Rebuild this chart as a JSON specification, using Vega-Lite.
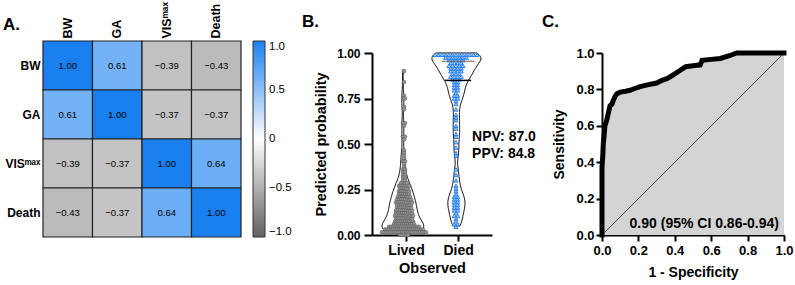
{
"$schema": "https://vega.github.io/schema/vega-lite/v6.json",
"autosize": {"type": "none"},
"padding": {"left": 43, "top": 41, "right": 752, "bottom": 244},
"config": {
  "font": "Liberation Sans",
  "view": {"stroke": null},
  "axis": {"grid": false, "domainColor": "black", "domainWidth": 2, "tickColor": "black", "tickWidth": 2, "tickSize": 6, "labelColor": "black", "labelFontWeight": "bold", "titleColor": "black", "titleFontWeight": "bold", "labelOverlap": false},
  "title": {"fontSize": 17, "fontWeight": "bold", "color": "black", "anchor": "start", "frame": "group"}
},
"spacing": 110,
"bounds": "flush",
"datasets": {
  "corr": [
    {"row": "BW", "col": "BW", "r": 1.0}, {"row": "BW", "col": "GA", "r": 0.61}, {"row": "BW", "col": "VISᵐᵃˣ", "r": -0.39}, {"row": "BW", "col": "Death", "r": -0.43},
    {"row": "GA", "col": "BW", "r": 0.61}, {"row": "GA", "col": "GA", "r": 1.0}, {"row": "GA", "col": "VISᵐᵃˣ", "r": -0.37}, {"row": "GA", "col": "Death", "r": -0.37},
    {"row": "VISᵐᵃˣ", "col": "BW", "r": -0.39}, {"row": "VISᵐᵃˣ", "col": "GA", "r": -0.37}, {"row": "VISᵐᵃˣ", "col": "VISᵐᵃˣ", "r": 1.0}, {"row": "VISᵐᵃˣ", "col": "Death", "r": 0.64},
    {"row": "Death", "col": "BW", "r": -0.43}, {"row": "Death", "col": "GA", "r": -0.37}, {"row": "Death", "col": "VISᵐᵃˣ", "r": 0.64}, {"row": "Death", "col": "Death", "r": 1.0}
  ],
  "pred": [
    {"group":"Lived","prob":0.907},{"group":"Lived","prob":0.842},{"group":"Lived","prob":0.772},{"group":"Lived","prob":0.764},{"group":"Lived","prob":0.751},{"group":"Lived","prob":0.712},{"group":"Lived","prob":0.703},{"group":"Lived","prob":0.628},{"group":"Lived","prob":0.617},{"group":"Lived","prob":0.604},
    {"group":"Lived","prob":0.553},{"group":"Lived","prob":0.541},{"group":"Lived","prob":0.532},{"group":"Lived","prob":0.471},{"group":"Lived","prob":0.452},{"group":"Lived","prob":0.443},{"group":"Lived","prob":0.431},{"group":"Lived","prob":0.418},{"group":"Lived","prob":0.405},{"group":"Lived","prob":0.392},
    {"group":"Lived","prob":0.384},{"group":"Lived","prob":0.371},{"group":"Lived","prob":0.366},{"group":"Lived","prob":0.352},{"group":"Lived","prob":0.347},{"group":"Lived","prob":0.338},{"group":"Lived","prob":0.331},{"group":"Lived","prob":0.322},{"group":"Lived","prob":0.318},{"group":"Lived","prob":0.309},
    {"group":"Lived","prob":0.302},{"group":"Lived","prob":0.297},{"group":"Lived","prob":0.291},{"group":"Lived","prob":0.288},{"group":"Lived","prob":0.283},{"group":"Lived","prob":0.279},{"group":"Lived","prob":0.274},{"group":"Lived","prob":0.271},{"group":"Lived","prob":0.266},{"group":"Lived","prob":0.262},
    {"group":"Lived","prob":0.258},{"group":"Lived","prob":0.254},{"group":"Lived","prob":0.251},{"group":"Lived","prob":0.247},{"group":"Lived","prob":0.243},{"group":"Lived","prob":0.239},{"group":"Lived","prob":0.236},{"group":"Lived","prob":0.231},{"group":"Lived","prob":0.228},{"group":"Lived","prob":0.224},
    {"group":"Lived","prob":0.221},{"group":"Lived","prob":0.217},{"group":"Lived","prob":0.214},{"group":"Lived","prob":0.211},{"group":"Lived","prob":0.208},{"group":"Lived","prob":0.205},{"group":"Lived","prob":0.202},{"group":"Lived","prob":0.198},{"group":"Lived","prob":0.195},{"group":"Lived","prob":0.192},
    {"group":"Lived","prob":0.189},{"group":"Lived","prob":0.186},{"group":"Lived","prob":0.183},{"group":"Lived","prob":0.18},{"group":"Lived","prob":0.177},{"group":"Lived","prob":0.174},{"group":"Lived","prob":0.171},{"group":"Lived","prob":0.168},{"group":"Lived","prob":0.165},{"group":"Lived","prob":0.162},
    {"group":"Lived","prob":0.159},{"group":"Lived","prob":0.156},{"group":"Lived","prob":0.153},{"group":"Lived","prob":0.151},{"group":"Lived","prob":0.148},{"group":"Lived","prob":0.146},{"group":"Lived","prob":0.143},{"group":"Lived","prob":0.141},{"group":"Lived","prob":0.138},{"group":"Lived","prob":0.136},
    {"group":"Lived","prob":0.133},{"group":"Lived","prob":0.131},{"group":"Lived","prob":0.128},{"group":"Lived","prob":0.126},{"group":"Lived","prob":0.123},{"group":"Lived","prob":0.121},{"group":"Lived","prob":0.118},{"group":"Lived","prob":0.116},{"group":"Lived","prob":0.113},{"group":"Lived","prob":0.111},
    {"group":"Lived","prob":0.108},{"group":"Lived","prob":0.106},{"group":"Lived","prob":0.104},{"group":"Lived","prob":0.102},{"group":"Lived","prob":0.099},{"group":"Lived","prob":0.097},{"group":"Lived","prob":0.096},{"group":"Lived","prob":0.094},{"group":"Lived","prob":0.092},{"group":"Lived","prob":0.091},
    {"group":"Lived","prob":0.089},{"group":"Lived","prob":0.088},{"group":"Lived","prob":0.086},{"group":"Lived","prob":0.085},{"group":"Lived","prob":0.083},{"group":"Lived","prob":0.082},{"group":"Lived","prob":0.08},{"group":"Lived","prob":0.079},{"group":"Lived","prob":0.077},{"group":"Lived","prob":0.076},
    {"group":"Lived","prob":0.074},{"group":"Lived","prob":0.073},{"group":"Lived","prob":0.071},{"group":"Lived","prob":0.07},{"group":"Lived","prob":0.068},{"group":"Lived","prob":0.067},{"group":"Lived","prob":0.066},{"group":"Lived","prob":0.064},{"group":"Lived","prob":0.063},{"group":"Lived","prob":0.062},
    {"group":"Lived","prob":0.06},{"group":"Lived","prob":0.059},{"group":"Lived","prob":0.058},{"group":"Lived","prob":0.057},{"group":"Lived","prob":0.056},{"group":"Lived","prob":0.055},{"group":"Lived","prob":0.054},{"group":"Lived","prob":0.053},{"group":"Lived","prob":0.052},{"group":"Lived","prob":0.051},
    {"group":"Lived","prob":0.05},{"group":"Lived","prob":0.049},{"group":"Lived","prob":0.048},{"group":"Lived","prob":0.047},{"group":"Lived","prob":0.046},{"group":"Lived","prob":0.045},{"group":"Lived","prob":0.045},{"group":"Lived","prob":0.044},{"group":"Lived","prob":0.043},{"group":"Lived","prob":0.042},
    {"group":"Lived","prob":0.041},{"group":"Lived","prob":0.041},{"group":"Lived","prob":0.04},{"group":"Lived","prob":0.039},{"group":"Lived","prob":0.038},{"group":"Lived","prob":0.038},{"group":"Lived","prob":0.037},{"group":"Lived","prob":0.036},{"group":"Lived","prob":0.035},{"group":"Lived","prob":0.035},
    {"group":"Lived","prob":0.034},{"group":"Lived","prob":0.033},{"group":"Lived","prob":0.033},{"group":"Lived","prob":0.032},{"group":"Lived","prob":0.031},{"group":"Lived","prob":0.031},{"group":"Lived","prob":0.03},{"group":"Lived","prob":0.029},{"group":"Lived","prob":0.029},{"group":"Lived","prob":0.028},
    {"group":"Lived","prob":0.027},{"group":"Lived","prob":0.027},{"group":"Lived","prob":0.026},{"group":"Lived","prob":0.025},{"group":"Lived","prob":0.025},{"group":"Lived","prob":0.024},{"group":"Lived","prob":0.023},{"group":"Lived","prob":0.023},{"group":"Lived","prob":0.022},{"group":"Lived","prob":0.021},
    {"group":"Lived","prob":0.021},{"group":"Lived","prob":0.02},{"group":"Lived","prob":0.019},{"group":"Lived","prob":0.019},{"group":"Lived","prob":0.018},{"group":"Lived","prob":0.017},{"group":"Lived","prob":0.017},{"group":"Lived","prob":0.016},{"group":"Lived","prob":0.015},{"group":"Lived","prob":0.015},
    {"group":"Lived","prob":0.014},{"group":"Lived","prob":0.013},{"group":"Lived","prob":0.012},{"group":"Lived","prob":0.011},{"group":"Lived","prob":0.01},
    {"group":"Lived","prob":0.104},{"group":"Lived","prob":0.109},{"group":"Lived","prob":0.114},{"group":"Lived","prob":0.119},{"group":"Lived","prob":0.124},{"group":"Lived","prob":0.129},{"group":"Lived","prob":0.134},{"group":"Lived","prob":0.139},{"group":"Lived","prob":0.144},{"group":"Lived","prob":0.149},
    {"group":"Lived","prob":0.154},{"group":"Lived","prob":0.158},{"group":"Lived","prob":0.163},{"group":"Lived","prob":0.167},{"group":"Lived","prob":0.172},{"group":"Lived","prob":0.176},{"group":"Lived","prob":0.181},{"group":"Lived","prob":0.185},{"group":"Lived","prob":0.19},{"group":"Lived","prob":0.194},
    {"group":"Lived","prob":0.199},{"group":"Lived","prob":0.203},{"group":"Lived","prob":0.209},{"group":"Lived","prob":0.213},{"group":"Lived","prob":0.219},{"group":"Lived","prob":0.226},{"group":"Lived","prob":0.233},{"group":"Lived","prob":0.241},{"group":"Lived","prob":0.249},{"group":"Lived","prob":0.256},
    {"group":"Lived","prob":0.264},{"group":"Lived","prob":0.272},{"group":"Lived","prob":0.281},{"group":"Lived","prob":0.293},{"group":"Lived","prob":0.113},
    {"group":"Died","prob":1.0},{"group":"Died","prob":1.0},{"group":"Died","prob":0.999},{"group":"Died","prob":0.999},{"group":"Died","prob":0.998},{"group":"Died","prob":0.998},{"group":"Died","prob":0.997},{"group":"Died","prob":0.996},{"group":"Died","prob":0.995},{"group":"Died","prob":0.994},
    {"group":"Died","prob":0.993},{"group":"Died","prob":0.992},{"group":"Died","prob":0.99},{"group":"Died","prob":0.989},{"group":"Died","prob":0.987},{"group":"Died","prob":0.985},{"group":"Died","prob":0.983},{"group":"Died","prob":0.981},{"group":"Died","prob":0.979},{"group":"Died","prob":0.977},
    {"group":"Died","prob":0.974},{"group":"Died","prob":0.971},{"group":"Died","prob":0.968},{"group":"Died","prob":0.965},{"group":"Died","prob":0.962},{"group":"Died","prob":0.958},{"group":"Died","prob":0.955},{"group":"Died","prob":0.951},{"group":"Died","prob":0.948},{"group":"Died","prob":0.944},
    {"group":"Died","prob":0.941},{"group":"Died","prob":0.937},{"group":"Died","prob":0.934},{"group":"Died","prob":0.93},{"group":"Died","prob":0.927},{"group":"Died","prob":0.923},{"group":"Died","prob":0.92},{"group":"Died","prob":0.916},{"group":"Died","prob":0.912},{"group":"Died","prob":0.909},
    {"group":"Died","prob":0.905},{"group":"Died","prob":0.902},{"group":"Died","prob":0.898},{"group":"Died","prob":0.893},{"group":"Died","prob":0.889},{"group":"Died","prob":0.884},{"group":"Died","prob":0.879},{"group":"Died","prob":0.875},{"group":"Died","prob":0.87},{"group":"Died","prob":0.866},
    {"group":"Died","prob":0.861},{"group":"Died","prob":0.857},{"group":"Died","prob":0.853},{"group":"Died","prob":0.846},{"group":"Died","prob":0.838},{"group":"Died","prob":0.829},{"group":"Died","prob":0.82},{"group":"Died","prob":0.811},{"group":"Died","prob":0.803},{"group":"Died","prob":0.795},
    {"group":"Died","prob":0.787},{"group":"Died","prob":0.779},{"group":"Died","prob":0.771},{"group":"Died","prob":0.763},{"group":"Died","prob":0.752},{"group":"Died","prob":0.741},{"group":"Died","prob":0.73},{"group":"Died","prob":0.703},{"group":"Died","prob":0.672},{"group":"Died","prob":0.655},
    {"group":"Died","prob":0.631},{"group":"Died","prob":0.608},{"group":"Died","prob":0.587},{"group":"Died","prob":0.566},{"group":"Died","prob":0.545},{"group":"Died","prob":0.524},{"group":"Died","prob":0.487},{"group":"Died","prob":0.462},{"group":"Died","prob":0.438},{"group":"Died","prob":0.362},
    {"group":"Died","prob":0.331},{"group":"Died","prob":0.307},{"group":"Died","prob":0.284},{"group":"Died","prob":0.262},{"group":"Died","prob":0.246},{"group":"Died","prob":0.232},{"group":"Died","prob":0.221},{"group":"Died","prob":0.212},{"group":"Died","prob":0.204},{"group":"Died","prob":0.197},
    {"group":"Died","prob":0.19},{"group":"Died","prob":0.183},{"group":"Died","prob":0.176},{"group":"Died","prob":0.169},{"group":"Died","prob":0.161},{"group":"Died","prob":0.153},{"group":"Died","prob":0.146},{"group":"Died","prob":0.139},{"group":"Died","prob":0.128},{"group":"Died","prob":0.117},
    {"group":"Died","prob":0.105},{"group":"Died","prob":0.094},{"group":"Died","prob":0.083},{"group":"Died","prob":0.072},{"group":"Died","prob":0.061},{"group":"Died","prob":0.05}
  ],
  "roc": [
    {"fpr":0,"tpr":0},{"fpr":0,"tpr":0.2},{"fpr":0,"tpr":0.37},{"fpr":0.005,"tpr":0.45},{"fpr":0.007,"tpr":0.5},{"fpr":0.012,"tpr":0.55},{"fpr":0.016,"tpr":0.6},{"fpr":0.026,"tpr":0.63},{"fpr":0.035,"tpr":0.67},{"fpr":0.044,"tpr":0.71},
    {"fpr":0.055,"tpr":0.72},{"fpr":0.062,"tpr":0.74},{"fpr":0.071,"tpr":0.76},{"fpr":0.081,"tpr":0.775},{"fpr":0.1,"tpr":0.785},{"fpr":0.13,"tpr":0.79},{"fpr":0.154,"tpr":0.795},{"fpr":0.18,"tpr":0.805},{"fpr":0.21,"tpr":0.815},{"fpr":0.25,"tpr":0.825},
    {"fpr":0.3,"tpr":0.835},{"fpr":0.33,"tpr":0.85},{"fpr":0.36,"tpr":0.86},{"fpr":0.4,"tpr":0.885},{"fpr":0.43,"tpr":0.905},{"fpr":0.46,"tpr":0.925},{"fpr":0.5,"tpr":0.93},{"fpr":0.54,"tpr":0.935},{"fpr":0.55,"tpr":0.96},{"fpr":0.6,"tpr":0.965},
    {"fpr":0.65,"tpr":0.97},{"fpr":0.7,"tpr":0.985},{"fpr":0.74,"tpr":1.0},{"fpr":1,"tpr":1}
  ]
},
"hconcat": [
  {
    "width": 219, "height": 196,
    "title": {"text": "A.", "dx": -40, "dy": 36},
    "data": {"name": "corr"},
    "encoding": {
      "x": {"field": "col", "type": "nominal", "sort": ["BW", "GA", "VISᵐᵃˣ", "Death"], "scale": {"range": [0, 198], "paddingInner": 0, "paddingOuter": 0},
            "axis": {"orient": "top", "title": null, "labelAngle": 270, "labelAlign": "left", "labelBaseline": "middle", "labelFontSize": 12.5, "ticks": false, "domain": false, "labelPadding": 3}},
      "y": {"field": "row", "type": "nominal", "sort": ["BW", "GA", "VISᵐᵃˣ", "Death"], "scale": {"paddingInner": 0, "paddingOuter": 0},
            "axis": {"title": null, "labelFontSize": 12, "ticks": false, "domain": false, "labelPadding": 3}}
    },
    "layer": [
      {"mark": {"type": "rect", "stroke": "#222222", "strokeWidth": 1.2},
       "encoding": {"color": {"field": "r", "type": "quantitative",
         "scale": {"domain": [-1, 0, 1], "range": ["#606060", "#ffffff", "#1a80f0"], "interpolate": "rgb"},
         "legend": {"orient": "none", "legendX": 210, "legendY": 0, "direction": "vertical", "title": null, "gradientLength": 196, "gradientThickness": 12,
                    "gradientStrokeColor": "#333333", "gradientStrokeWidth": 1, "values": [-1, -0.5, 0, 0.5, 1],
                    "labelExpr": "datum.value === 0 ? '0' : format(datum.value, '.1f')", "labelFontSize": 11.5, "labelColor": "black", "labelOffset": 4, "labelBaseline": "middle"}}}},
      {"mark": {"type": "text", "fontSize": 9.5, "color": "black"},
       "encoding": {"text": {"field": "r", "type": "quantitative", "format": ".2f"}}}
    ]
  },
  {
    "width": 120, "height": 194,
    "title": {"text": "B.", "dx": -70, "dy": -6},
    "layer": [
      {"data": {"name": "pred"},
       "transform": [{"filter": "datum.group === 'Lived'"}, {"density": "prob", "bandwidth": 0.035, "extent": [0.01, 0.907], "steps": 200, "as": ["prob", "density"]}],
       "mark": {"type": "area", "orient": "horizontal", "fill": "white", "stroke": "black", "strokeWidth": 1},
       "encoding": {
         "y": {"field": "prob", "type": "quantitative", "scale": {"domain": [0, 1], "range": [194, 12], "nice": false},
               "axis": {"title": "Predicted probability", "values": [0, 0.25, 0.5, 0.75, 1], "format": ".2f", "labelFontSize": 12, "tickSize": 8, "labelPadding": 4, "titleFontSize": 14.5, "titlePadding": 8, "labelOverlap": false}},
         "x": {"field": "density", "type": "quantitative", "stack": "center", "scale": {"domain": [-0.95, 10.48], "nice": false, "zero": false}, "axis": null}
       }},
      {"data": {"name": "pred"},
       "transform": [{"filter": "datum.group === 'Died'"}, {"density": "prob", "bandwidth": 0.035, "extent": [0.05, 1.0], "steps": 200, "as": ["prob", "density"]}],
       "mark": {"type": "area", "orient": "horizontal", "fill": "white", "stroke": "black", "strokeWidth": 1},
       "encoding": {
         "y": {"field": "prob", "type": "quantitative", "scale": {"domain": [0, 1], "range": [194, 12], "nice": false}},
         "x": {"field": "density", "type": "quantitative", "stack": "center", "scale": {"domain": [-4.05, 4.06], "nice": false, "zero": false}, "axis": null}
       }},
      {"data": {"name": "pred"},
       "transform": [{"filter": "datum.group === 'Lived'"}, {"window": [{"op": "row_number", "as": "id"}]}, {"bin": {"step": 0.015, "extent": [0, 1.02]}, "field": "prob", "as": "pbin"}],
       "mark": {"type": "circle", "size": 14, "color": "#969696", "stroke": "#5a5a5a", "strokeWidth": 0.6, "opacity": 1},
       "encoding": {
         "y": {"field": "pbin", "type": "quantitative", "scale": {"domain": [0, 1], "range": [194, 12], "nice": false}},
         "x": {"aggregate": "count", "type": "quantitative", "stack": "center", "scale": {"domain": [-4, 56], "nice": false, "zero": false}, "axis": null},
         "detail": {"field": "id", "type": "quantitative"}
       }},
      {"data": {"name": "pred"},
       "transform": [{"filter": "datum.group === 'Died'"}, {"window": [{"op": "row_number", "as": "id"}]}, {"bin": {"step": 0.015, "extent": [0, 1.02]}, "field": "prob", "as": "pbin"}],
       "mark": {"type": "point", "shape": "triangle-up", "size": 16, "filled": true, "color": "#a9cff7", "stroke": "#2a80ee", "strokeWidth": 1, "opacity": 1},
       "encoding": {
         "y": {"field": "pbin", "type": "quantitative", "scale": {"domain": [0, 1], "range": [194, 12], "nice": false}},
         "x": {"aggregate": "count", "type": "quantitative", "stack": "center", "scale": {"domain": [-17, 17.3], "nice": false, "zero": false}, "axis": null},
         "detail": {"field": "id", "type": "quantitative"}
       }},
      {"data": {"name": "pred"},
       "transform": [{"filter": "datum.group === 'Died'"}],
       "mark": {"type": "tick", "orient": "horizontal", "size": 26, "thickness": 1.5, "color": "black"},
       "encoding": {
         "y": {"aggregate": "median", "field": "prob", "type": "quantitative", "scale": {"domain": [0, 1], "range": [194, 12], "nice": false}},
         "x": {"field": "group", "type": "nominal", "scale": {"type": "point", "domain": ["Lived", "Died"], "padding": 0.65},
               "axis": {"title": "Observed", "labelAngle": 0, "labelFontSize": 14, "labelPadding": 2, "titleFontSize": 14.5, "titlePadding": 4}}
       }},
      {"data": {"name": "pred"},
       "transform": [{"filter": "datum.group === 'Died'"}],
       "mark": {"type": "tick", "orient": "horizontal", "size": 33, "thickness": 1, "color": "#666666", "strokeDash": [2, 2]},
       "encoding": {
         "y": {"aggregate": "q3", "field": "prob", "type": "quantitative", "scale": {"domain": [0, 1], "range": [194, 12], "nice": false}},
         "x": {"field": "group", "type": "nominal", "scale": {"type": "point", "domain": ["Lived", "Died"], "padding": 0.65}, "axis": null}
       }},
      {"data": {"values": [{}]},
       "mark": {"type": "text", "text": ["NPV: 87.0", "PPV: 84.8"], "align": "left", "baseline": "middle", "dx": 14, "fontSize": 14, "fontWeight": "bold", "lineHeight": 17, "color": "black"},
       "encoding": {
         "y": {"datum": 0.54, "type": "quantitative", "scale": {"domain": [0, 1], "range": [194, 12], "nice": false}},
         "x": {"datum": "Died", "type": "nominal", "scale": {"type": "point", "domain": ["Lived", "Died"], "padding": 0.65}, "axis": null}
       }}
    ],
    "resolve": {"scale": {"x": "independent"}, "axis": {"x": "independent"}}
  },
  {
    "width": 182, "height": 194,
    "title": {"text": "C.", "dx": -60, "dy": -6},
    "encoding": {
      "x": {"field": "fpr", "type": "quantitative", "scale": {"domain": [0, 1], "nice": false},
            "axis": {"title": "1 - Specificity", "values": [0, 0.2, 0.4, 0.6, 0.8, 1], "format": ".1f", "labelFontSize": 13, "labelPadding": 3, "titleFontSize": 14, "titlePadding": 8, "labelOverlap": false, "labelFlush": false}},
      "y": {"field": "tpr", "type": "quantitative", "scale": {"domain": [0, 1], "range": [194, 12], "nice": false},
            "axis": {"title": "Sensitivity", "values": [0, 0.2, 0.4, 0.6, 0.8, 1], "format": ".1f", "labelFontSize": 13, "labelPadding": 2, "titleFontSize": 14, "titlePadding": 9, "labelOverlap": false, "labelFlush": false}}
    },
    "layer": [
      {"data": {"name": "roc"},
       "mark": {"type": "area", "color": "#d4d4d4"}},
      {"data": {"values": [{"fpr": 0, "tpr": 0}, {"fpr": 1, "tpr": 1}]},
       "mark": {"type": "line", "color": "black", "strokeWidth": 0.7}},
      {"data": {"name": "roc"},
       "mark": {"type": "line", "color": "black", "strokeWidth": 5, "strokeJoin": "miter", "strokeCap": "square"}},
      {"data": {"name": "roc"},
       "mark": {"type": "text", "text": "0.90 (95% CI 0.86-0.94)", "align": "right", "baseline": "middle", "dx": -5, "dy": -11, "fontSize": 14, "fontWeight": "bold", "color": "black"},
       "encoding": {
         "x": {"aggregate": "max", "field": "fpr", "type": "quantitative"},
         "y": {"aggregate": "min", "field": "tpr", "type": "quantitative"}
       }}
    ]
  }
]
}
